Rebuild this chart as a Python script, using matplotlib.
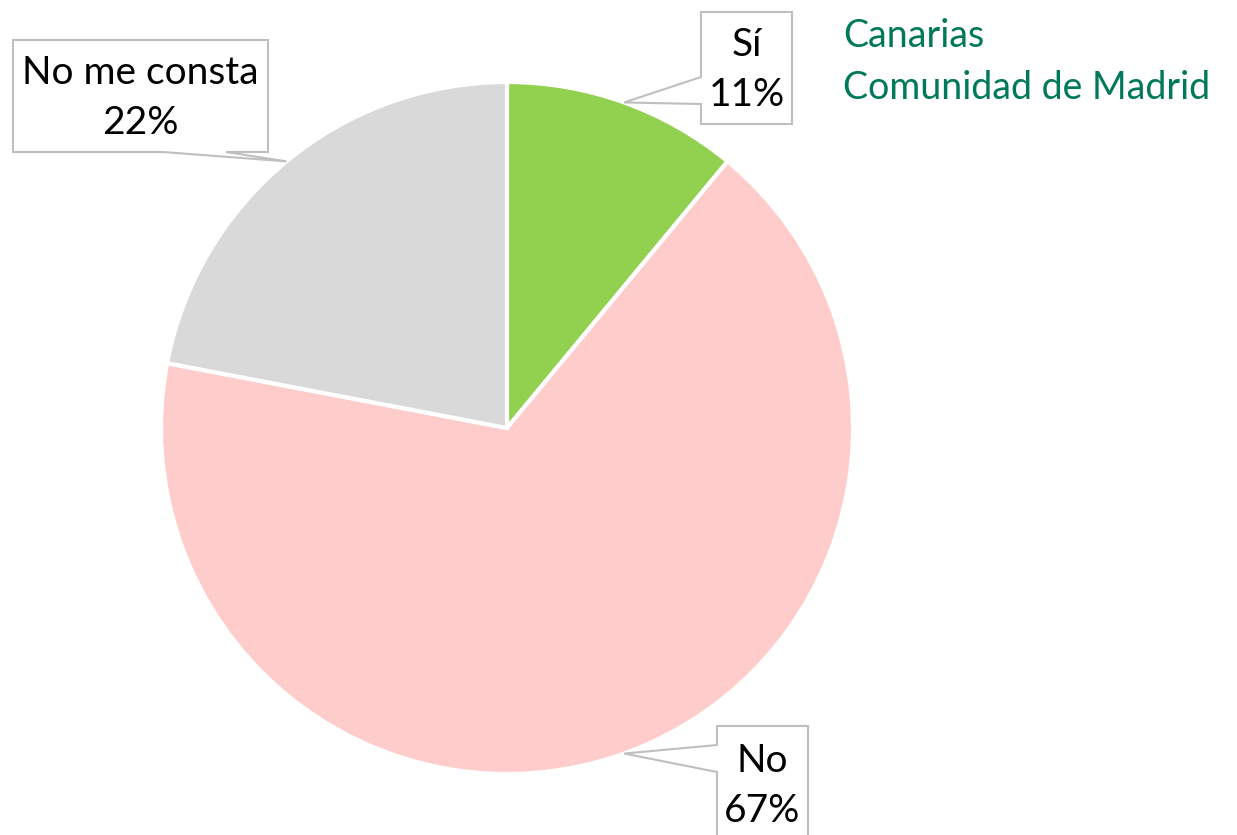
import numpy as np
import matplotlib.pyplot as plt
from matplotlib.patches import Polygon

labels = ["Sí", "No", "No me consta"]
values = [11, 67, 22]
colors = ["#92d050", "#ffcccc", "#d9d9d9"]
legend_lines = ["Canarias", "Comunidad de Madrid"]

W, H = 1237, 835
fig = plt.figure(figsize=(W / 100, H / 100), dpi=100)
ax = fig.add_axes([0, 0, 1, 1])
ax.set_xlim(0, W)
ax.set_ylim(0, H)
ax.axis("off")

cx, cy, r = 507, H - 428, 346
wedges, _ = ax.pie(values, colors=colors, startangle=90, counterclock=False,
                   center=(cx, cy), radius=r,
                   wedgeprops=dict(edgecolor="white", linewidth=3))
ax.set_xlim(0, W)
ax.set_ylim(0, H)

font = ["Lato", "DejaVu Sans"]

# callout boxes: (left, top, right, bottom) in px from top-left, side of pointer, pointer base span
boxes = {
    "Sí": dict(box=(701, 12, 792, 124), side="left", span=(77, 104), ty=70),
    "No": dict(box=(717, 726, 808, 850), side="left", span=(745, 772), ty=786),
    "No me consta": dict(box=(13, 40, 268, 152), side="bottom", span=(163, 226), ty=98),
}

for w, lab, v in zip(wedges, labels, values):
    mid = np.deg2rad((w.theta1 + w.theta2) / 2)
    tx, ty = cx + r * np.cos(mid), cy + r * np.sin(mid)
    b = boxes[lab]
    l, t, rr, bt = b["box"]
    L, T, R, B = l, H - t, rr, H - bt
    s0, s1 = b["span"]
    if b["side"] == "left":
        pts = [(L, T), (R, T), (R, B), (L, B), (L, H - s1), (tx, ty), (L, H - s0)]
    else:
        pts = [(L, T), (R, T), (R, B), (s1, B), (tx, ty), (s0, B), (L, B)]
    ax.add_patch(Polygon(pts, closed=True, facecolor="white", edgecolor="#bfbfbf",
                         linewidth=1.5, zorder=5))
    ax.text((L + R) / 2, H - b["ty"], f"{lab}\n{v}%", ha="center", va="center",
            fontsize=28, family=font, linespacing=1.5, zorder=6, color="black")

ax.text(843, H - 36, legend_lines[0], ha="left", va="center", fontsize=27,
        family=font, color="#00785a")
ax.text(843, H - 88, legend_lines[1], ha="left", va="center", fontsize=27,
        family=font, color="#00785a")

fig.savefig("out.png", dpi=100)
